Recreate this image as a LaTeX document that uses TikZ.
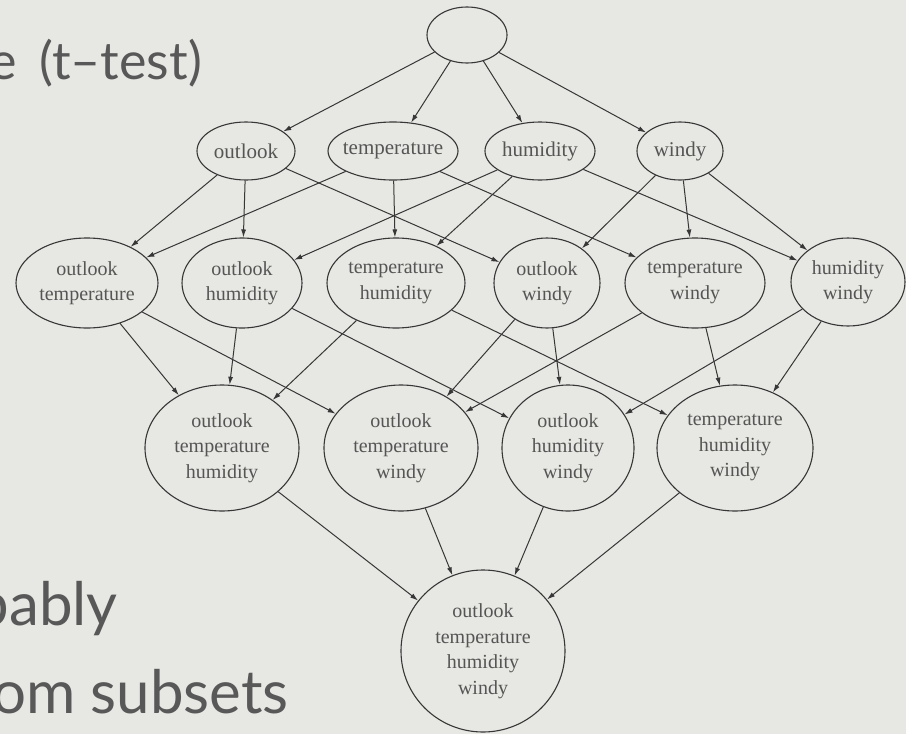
\documentclass[tikz,border=0pt]{standalone}
\usepackage{fontspec}
\setmainfont{Liberation Serif}
\newfontfamily\slidefont{Lato}
\usetikzlibrary{shapes.geometric,arrows.meta}

\definecolor{slidebg}{RGB}{231,231,227}
\definecolor{slidetext}{RGB}{88,88,88}
\definecolor{graphline}{RGB}{55,55,55}

\tikzset{
  attr/.style={ellipse, draw=graphline, line width=1.1pt, inner sep=-28pt, align=center,
    text=graphline!85, font=\fontsize{20}{25.5}\selectfont},
  single/.style={font=\fontsize{21}{25.5}\selectfont},
  edge/.style={-{Latex[length=8pt,width=5pt]}, draw=graphline, line width=1pt},
  bullet/.style={text=slidetext, inner sep=0pt}
}

\begin{document}
\begin{tikzpicture}[x=1pt,y=-1pt]
	\fill[slidebg] (0,0) rectangle (906,734);
	\useasboundingbox (0,0) rectangle (906,734);
	\clip (0,0) rectangle (906,734);
	
	% slide text, cut at the left edge
	\node[bullet, font=\slidefont\fontsize{52}{60}\selectfont, anchor=base east] (ttest) at (202,79) {e\hspace{22pt}(t–test)};
	\node[bullet, font=\slidefont\fontsize{60}{70}\selectfont, anchor=base east] (probably) at (118,625) {bably};
	\node[bullet, font=\slidefont\fontsize{60}{70}\selectfont, anchor=base east] (subsets) at (289,713) {om subsets};
	
	% lattice of attribute subsets
	\node[attr, minimum width=80pt, minimum height=56pt] (root) at (467,35) {};
	
	\node[attr, single, minimum width=98pt, minimum height=58pt] (o) at (246,151) {outlook};
	\node[attr, single, minimum width=130pt, minimum height=58pt] (t) at (393,151) {temperature};
	\node[attr, single, minimum width=110pt, minimum height=58pt] (h) at (540,151) {humidity};
	\node[attr, single, minimum width=86pt, minimum height=58pt] (w) at (680,151) {windy};
	
	\node[attr, minimum width=142pt, minimum height=90pt] (ot) at (87,283) {outlook\\temperature};
	\node[attr, minimum width=120pt, minimum height=90pt] (oh) at (242,283) {outlook\\humidity};
	\node[attr, minimum width=138pt, minimum height=90pt] (th) at (396,283) {temperature\\humidity};
	\node[attr, minimum width=106pt, minimum height=90pt] (ow) at (547,283) {outlook\\windy};
	\node[attr, minimum width=140pt, minimum height=90pt] (tw) at (695,283) {temperature\\windy};
	\node[attr, minimum width=114pt, minimum height=88pt] (hw) at (848,282) {humidity\\windy};
	
	\node[attr, minimum width=154pt, minimum height=126pt] (oth) at (222,448) {outlook\\temperature\\humidity};
	\node[attr, minimum width=154pt, minimum height=126pt] (otw) at (401,448) {outlook\\temperature\\windy};
	\node[attr, minimum width=132pt, minimum height=126pt] (ohw) at (568,448) {outlook\\humidity\\windy};
	\node[attr, minimum width=156pt, minimum height=126pt] (thw) at (735,448) {temperature\\humidity\\windy};
	
	\node[attr, minimum width=164pt, minimum height=162pt] (all) at (483,651) {outlook\\temperature\\humidity\\windy};
	
	\foreach \a/\b in {root/o, root/t, root/h, root/w,
		o/ot, o/oh, o/ow, t/ot, t/th, t/tw, h/oh, h/th, h/hw, w/ow, w/tw, w/hw,
		ot/oth, ot/otw, oh/oth, oh/ohw, th/oth, th/thw, ow/otw, ow/ohw, tw/otw, tw/thw, hw/ohw, hw/thw,
		oth/all, otw/all, ohw/all, thw/all}
		\draw[edge] (\a) -- (\b);
\end{tikzpicture}
\end{document}
